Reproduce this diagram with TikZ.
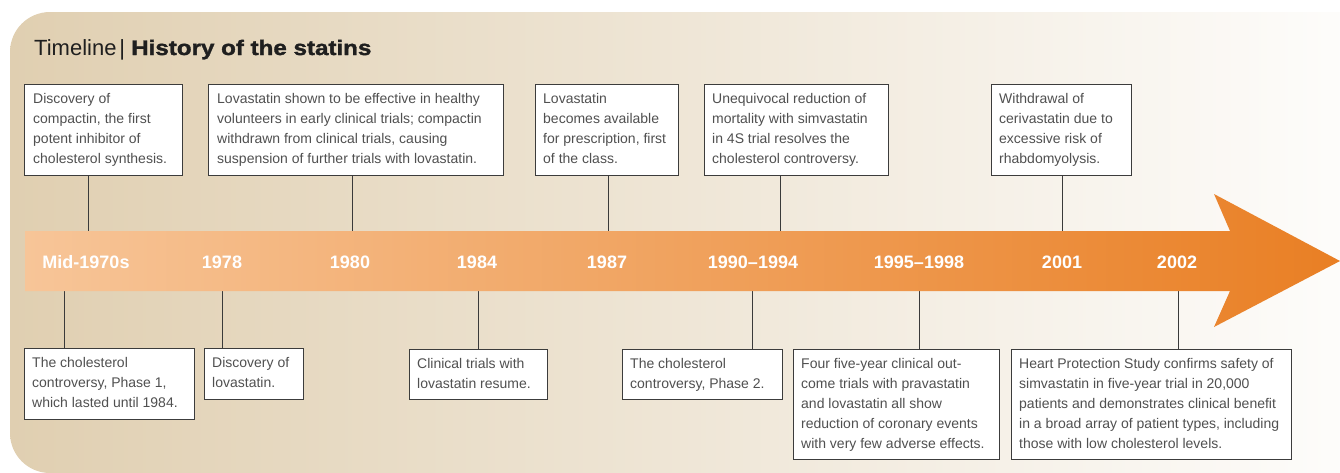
\documentclass[tikz,border=0pt]{standalone}
\usepackage{fontspec}
\setmainfont{Liberation Sans}
\newfontfamily\heavyfont[FakeStretch=1.15,FakeBold=1.6]{Liberation Sans Bold}
\definecolor{bgL}{HTML}{E0CFB1}
\definecolor{bgM}{HTML}{EFE6D8}
\definecolor{arL}{HTML}{F7C598}
\definecolor{arM}{HTML}{F1A262}
\definecolor{arR}{HTML}{E97F24}
\definecolor{boxc}{HTML}{3C3C3C}
\definecolor{txtc}{HTML}{505050}
\definecolor{connc}{HTML}{3A3A3A}
\tikzset{
  evbox/.style={draw=boxc, fill=white, line width=0.9pt, inner sep=0pt, anchor=north west},
  evtext/.style={anchor=north west, inner sep=0pt, align=left, text=txtc, font=\fontsize{14}{20}\selectfont},
  yr/.style={anchor=base, inner sep=0pt, text=white, font=\bfseries\fontsize{18}{20}\selectfont},
  conn/.style={draw=connc, line width=0.9pt}
}
\newcommand\fl{\rule{0pt}{19.5pt}}
\begin{document}
\begin{tikzpicture}[x=1pt,y=-1pt]
\useasboundingbox (0,0) rectangle (1340,472);
% background
\shade[left color=bgL, middle color=bgM, right color=white, rounded corners=40pt] (10,12) rectangle (1420,473);
% title
\node[anchor=base west, inner sep=0pt, text=black!88] (title) at (34,55)
  {{\fontsize{22}{26}\selectfont Timeline\hspace{3pt}|\hspace{6pt}}{\heavyfont\fontsize{21}{26}\selectfont History of the statins}};
% top boxes
\node[evbox, minimum width=158pt, minimum height=91pt] (b1) at (24,84) {};
\node[evtext] (b1t) at ([xshift=9pt]b1.north west) {\fl Discovery of\\compactin, the first\\potent inhibitor of\\cholesterol synthesis.};
\node[evbox, minimum width=295pt, minimum height=91pt] (b2) at (208,84) {};
\node[evtext] (b2t) at ([xshift=9pt]b2.north west) {\fl Lovastatin shown to be effective in healthy\\volunteers in early clinical trials; compactin\\withdrawn from clinical trials, causing\\suspension of further trials with lovastatin.};
\node[evbox, minimum width=143pt, minimum height=91pt] (b3) at (535,84) {};
\node[evtext] (b3t) at ([xshift=8pt]b3.north west) {\fl Lovastatin\\becomes available\\for prescription, first\\of the class.};
\node[evbox, minimum width=184pt, minimum height=91pt] (b4) at (704,84) {};
\node[evtext] (b4t) at ([xshift=8pt]b4.north west) {\fl Unequivocal reduction of\\mortality with simvastatin\\in 4S trial resolves the\\cholesterol controversy.};
\node[evbox, minimum width=140pt, minimum height=91pt] (b5) at (991,84) {};
\node[evtext] (b5t) at ([xshift=8pt]b5.north west) {\fl Withdrawal of\\cerivastatin due to\\excessive risk of\\rhabdomyolysis.};
% bottom boxes
\node[evbox, minimum width=170pt, minimum height=71pt] (c1) at (24,348) {};
\node[evtext] (c1t) at ([xshift=8pt]c1.north west) {\fl The cholesterol\\controversy, Phase 1,\\which lasted until 1984.};
\node[evbox, minimum width=99pt, minimum height=51pt] (c2) at (204,348) {};
\node[evtext] (c2t) at ([xshift=8pt]c2.north west) {\fl Discovery of\\lovastatin.};
\node[evbox, minimum width=138pt, minimum height=50pt] (c3) at (409,349) {};
\node[evtext] (c3t) at ([xshift=8pt]c3.north west) {\fl Clinical trials with\\lovastatin resume.};
\node[evbox, minimum width=160pt, minimum height=50pt] (c4) at (622,349) {};
\node[evtext] (c4t) at ([xshift=8pt]c4.north west) {\fl The cholesterol\\controversy, Phase 2.};
\node[evbox, minimum width=206pt, minimum height=110pt] (c5) at (793,349) {};
\node[evtext] (c5t) at ([xshift=8pt]c5.north west) {\fl Four five-year clinical out-\\come trials with pravastatin\\and lovastatin all show\\reduction of coronary events\\with very few adverse effects.};
\node[evbox, minimum width=280pt, minimum height=110pt] (c6) at (1011,349) {};
\node[evtext] (c6t) at ([xshift=8pt]c6.north west) {\fl Heart Protection Study confirms safety of\\simvastatin in five-year trial in 20,000\\patients and demonstrates clinical benefit\\in a broad array of patient types, including\\those with low cholesterol levels.};
% connector end points on the arrow
\coordinate (k1) at (88,231);
\coordinate (k2) at (352,231);
\coordinate (k3) at (608,231);
\coordinate (k4) at (780,231);
\coordinate (k5) at (1062,231);
\coordinate (m1) at (64,291);
\coordinate (m2) at (222,291);
\coordinate (m3) at (478,291);
\coordinate (m4) at (752,291);
\coordinate (m5) at (919,291);
\coordinate (m6) at (1178,291);
\draw[conn] (b1.south -| k1) -- (k1);
\draw[conn] (b2.south -| k2) -- (k2);
\draw[conn] (b3.south -| k3) -- (k3);
\draw[conn] (b4.south -| k4) -- (k4);
\draw[conn] (b5.south -| k5) -- (k5);
\draw[conn] (m1) -- (m1 |- c1.north);
\draw[conn] (m2) -- (m2 |- c2.north);
\draw[conn] (m3) -- (m3 |- c3.north);
\draw[conn] (m4) -- (m4 |- c4.north);
\draw[conn] (m5) -- (m5 |- c5.north);
\draw[conn] (m6) -- (m6 |- c6.north);
% arrow
\shade[left color=arL, middle color=arM, right color=arR]
  (25,231) -- (1230,231) -- (1214,194) -- (1340,261) -- (1214,327) -- (1230,291) -- (25,291) -- cycle;
% years
\node[yr] (y1) at (86,268) {Mid-1970s};
\node[yr] (y2) at (222,268) {1978};
\node[yr] (y3) at (350,268) {1980};
\node[yr] (y4) at (477,268) {1984};
\node[yr] (y5) at (607,268) {1987};
\node[yr] (y6) at (753,268) {1990–1994};
\node[yr] (y7) at (919,268) {1995–1998};
\node[yr] (y8) at (1062,268) {2001};
\node[yr] (y9) at (1177,268) {2002};
\end{tikzpicture}
\end{document}
